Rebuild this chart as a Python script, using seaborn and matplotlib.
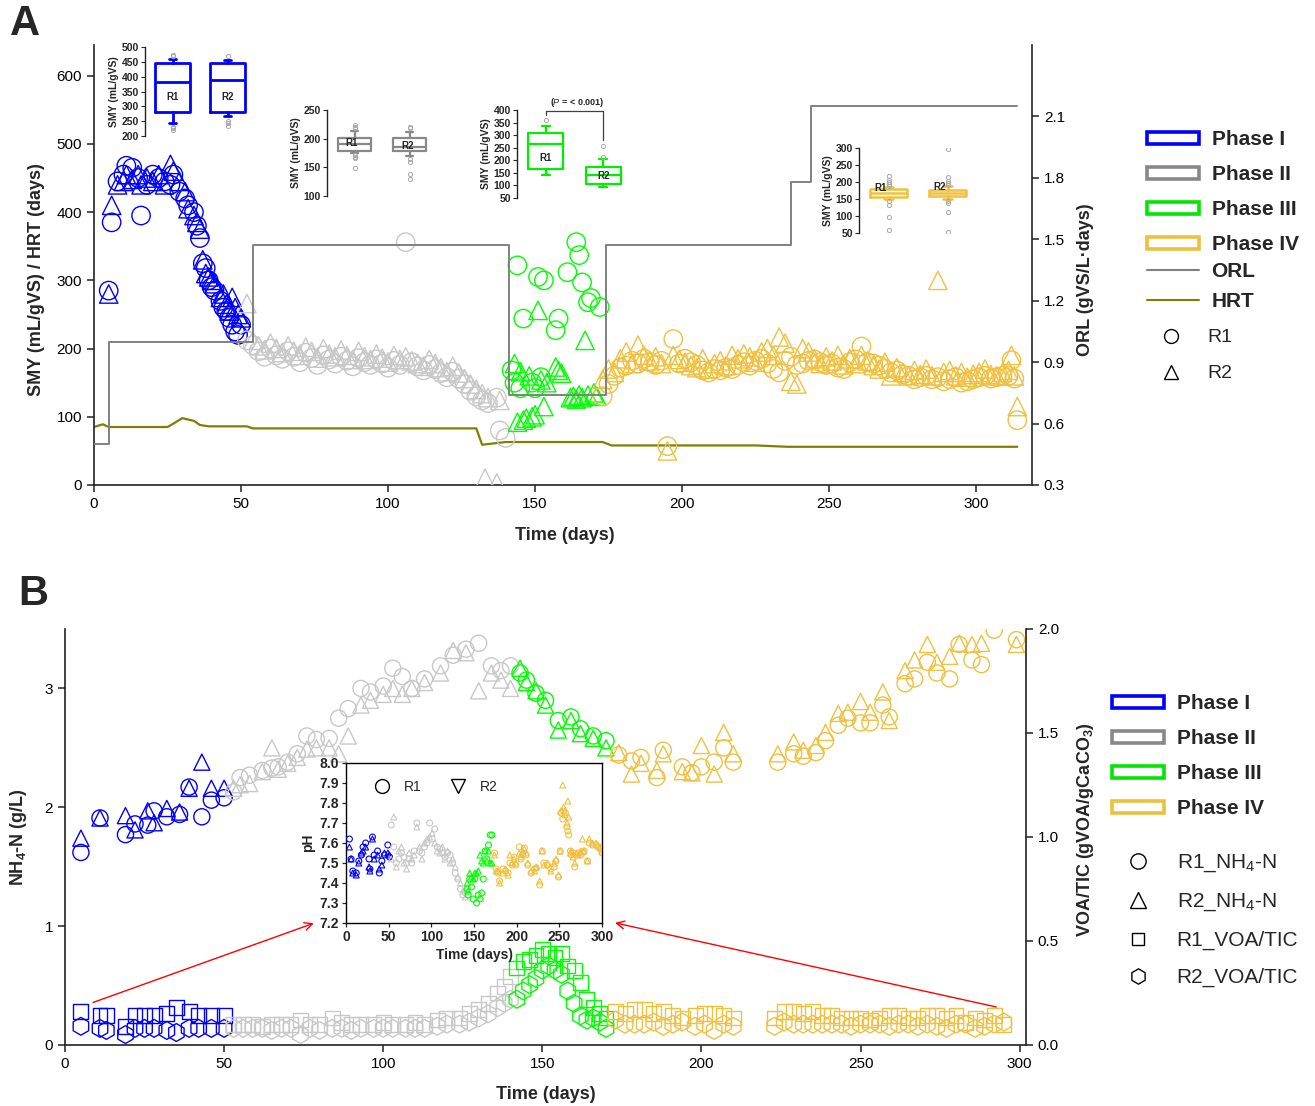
import numpy as np
import pandas as pd
import matplotlib
matplotlib.use("Agg")
import matplotlib.pyplot as plt
import seaborn as sns
from matplotlib.patches import Patch
from matplotlib.lines import Line2D
from matplotlib.ticker import FormatStrFormatter

nan = np.nan

# ---------------- Panel A : specific methane yield (mL/gVS) ----------------
days_a1 = [5, 6, 8, 10, 11, 13, 15, 16, 18, 20, 22, 24, 26, 27, 29, 31, 32, 34, 35, 36,
           37, 38, 39, 40, 41, 43, 44, 45, 46, 47, 48, 49, 50]
smy_r1_a1 = [285, 385, 445, 455, 468, 465, 450, 395, 440, 455, 450, 445, 440, 455, 430, 420, 410, 400, 380, 362,
             325, 318, 300, 290, 285, 270, 260, 255, 245, 235, 225, 220, 235]
smy_r2_a1 = [280, 410, 440, 445, 455, 448, 455, 440, 450, 445, 455, 440, 470, 460, 445, 430, 405, 395, 385, 375,
             330, 310, 305, 300, 295, 275, 280, 265, 255, 275, 260, 250, 245]

days_a2 = [52, 54, 56, 58, 60, 62, 64, 66, 68, 70, 72, 74, 76, 78, 80, 82, 84, 86, 88, 90,
           92, 94, 96, 98, 100, 102, 104, 106, 108, 110, 112, 114, 116, 118, 120, 122, 124, 126, 128, 130,
           132, 133, 134, 136, 137, 138, 140]
smy_r1_a2 = [212, 205, 196, 188, 200, 190, 185, 196, 188, 180, 194, 186, 176, 190, 184, 178, 188, 182, 174, 186,
             180, 176, 184, 178, 172, 182, 176, 356, 180, 174, 168, 176, 170, 164, 158, 166, 156, 148, 138, 130,
             124, nan, 120, nan, 128, 80, 69]
smy_r2_a2 = [266, 212, 204, 198, 208, 200, 194, 204, 196, 190, 202, 196, 186, 200, 192, 188, 198, 190, 184, 196,
             188, 184, 192, 186, 180, 190, 184, 188, 182, 178, 174, 184, 178, 172, 166, 174, 164, 156, 148, 140,
             134, 10, 128, nan, 3, 124, nan]

days_a3_r1 = [142, 143, 144, 145, 146, 149, 150, 151, 152, 153, 157, 158, 161, 164, 165, 166, 168, 169, 172]
smy_r1_a3 = [168, 150, 322, 142, 244, 150, 142, 305, 158, 300, 227, 244, 312, 356, 337, 297, 268, 274, 261]
days_a3_r2 = [143, 144, 145, 146, 147, 148, 149, 150, 151, 152, 153, 154, 157, 158, 159, 162, 163, 164, 165, 166,
              167, 168, 170, 171]
smy_r2_a3 = [178, 92, 166, 95, 98, 160, 100, 103, 256, 154, 115, 150, 173, 168, 164, 128, 130, 126, 132, 128,
             212, 132, 135, 130]

days_a4 = [173, 175, 177, 179, 181, 183, 185, 187, 189, 191, 193, 195, 197, 199, 201, 203, 205, 207, 209, 211,
           213, 215, 217, 219, 221, 223, 225, 227, 229, 231, 233, 235, 237, 239, 241, 243, 245, 247, 249, 251,
           253, 255, 257, 259, 261, 263, 265, 267, 269, 271, 273, 275, 277, 279, 281, 283, 285, 287, 289, 291,
           293, 295, 297, 299, 301, 303, 305, 307, 309, 311, 312, 313, 314]
smy_r1_a4 = [130, 148, 160, 172, 175, 182, 178, 185, 180, 176, 182, 57, 214, 178, 185, 180, 176, 168, 165, 170,
             168, 172, 170, 176, 180, 175, 182, 185, 178, 170, 165, 182, 188, 176, 178, 182, 184, 180, 176, 178,
             172, 170, 180, 184, 203, 180, 178, 175, 170, 165, 168, 162, 160, 155, 158, 160, 155, 158, 152, 155,
             158, 150, 152, 155, 158, 160, 156, 158, 160, 160, 183, 156, 95]
smy_r2_a4 = [155, 170, 165, 185, 195, 178, 205, 190, 182, 188, 178, 50, 190, 184, 180, 175, 172, 185, 170, 178,
             182, 175, 190, 185, 192, 188, 180, 195, 200, 190, 217, 208, 152, 148, 200, 195, 185, 178, 188, 182,
             190, 176, 185, 178, 190, 182, 175, 170, 180, 160, 172, 165, 160, 168, 162, 170, 160, 300, 165, 168,
             160, 165, 158, 162, 165, 170, 162, 160, 165, 168, 190, 160, 115]

# operational lines
hrt_days = [0, 3, 5, 25, 27, 30, 34, 36, 39, 52, 54, 130, 132, 140, 173, 176, 225, 236, 314]
hrt_vals = [85, 89, 85, 85, 90, 98, 94, 88, 86, 86, 83, 83, 59, 63, 63, 58, 58, 56, 56]
orl_days = [0, 5, 54, 141, 174, 237, 244, 314]
orl_vals = [0.5, 1.0, 1.47, 0.74, 1.47, 1.78, 2.15, 2.15]

# inset boxplot statistics [q1, median, q3, whisker low, whisker high] and outliers
box_a1_r1 = [280, 382, 445, 245, 459]
fl_a1_r1 = [474, 468, 232, 226, 220]
box_a1_r2 = [280, 388, 447, 268, 456]
fl_a1_r2 = [470, 251, 243, 235]
box_a2_r1 = [179, 190, 202, 175, 214]
fl_a2_r1 = [223, 220, 218, 172, 168, 166, 148]
box_a2_r2 = [179, 186, 201, 169, 211]
fl_a2_r2 = [221, 218, 165, 160, 139, 129]
box_a3_r1 = [165, 263, 309, 143, 337]
fl_a3_r1 = [360]
box_a3_r2 = [107, 140, 174, 94, 207]
fl_a3_r2 = [214, 257]
box_a4_r1 = [156, 168, 179, 150, 185]
fl_a4_r1 = [217, 207, 200, 194, 189, 143, 131, 97, 60]
box_a4_r2 = [158, 168, 177, 151, 187]
fl_a4_r2 = [297, 215, 202, 196, 192, 143, 138, 112, 52]

# ---------------- Panel B : NH4-N (g/L) and VOA/TIC ----------------
days_b1 = [5, 11, 19, 22, 26, 28, 32, 36, 39, 43, 46, 50]
nh4_r1_b1 = [1.62, 1.91, 1.77, 1.86, 1.85, 1.97, 1.92, 1.94, 2.17, 1.92, 2.06, 2.08]
nh4_r2_b1 = [1.74, 1.91, 1.93, 1.81, 1.97, 1.87, 1.99, 1.96, 2.16, 2.38, 2.16, 2.16]

days_b2 = [53, 55, 58, 62, 65, 67, 70, 73, 76, 79, 83, 86, 89, 93, 96, 100, 103, 106, 109, 113,
           118, 122, 126, 130, 134, 137, 140]
nh4_r1_b2 = [2.13, 2.25, 2.27, 2.31, 2.33, 2.34, 2.38, 2.45, 2.60, 2.57, 2.58, 2.75, 2.83, 3.00, 2.97, 3.02,
             3.17, 3.10, 3.00, 3.08, 3.19, 3.28, 3.33, 3.38, 3.19, 3.15, 3.19]
nh4_r2_b2 = [2.16, 2.19, 2.20, 2.30, 2.50, 2.32, 2.37, 2.42, 2.49, 2.50, 2.50, 2.45, 2.60, 2.86, 2.90, 2.95,
             3.00, 2.95, 3.00, 3.05, 3.13, 3.32, 3.30, 2.98, 3.13, 3.07, 3.00]

days_b3 = [143, 145, 148, 151, 155, 159, 162, 166, 170]
nh4_r1_b3 = [3.13, 3.07, 2.96, 2.90, 2.73, 2.76, 2.66, 2.60, 2.56]
nh4_r2_b3 = [3.17, 3.05, 2.98, 2.86, 2.65, 2.73, 2.62, 2.58, 2.50]

days_b4 = [174, 178, 181, 186, 188, 194, 197, 200, 204, 207, 210, 224, 229, 232, 236, 239, 243, 246, 250, 253,
           257, 259, 264, 267, 271, 274, 278, 281, 285, 288, 292, 299]
nh4_r1_b4 = [2.44, 2.39, 2.42, 2.25, 2.48, 2.34, 2.29, 2.34, 2.38, 2.50, 2.38, 2.38, 2.45, 2.43, 2.46, 2.56,
             2.69, 2.75, 2.71, 2.71, 2.86, 2.76, 3.04, 3.08, 3.22, 3.13, 3.08, 3.37, 3.24, 3.20, 3.49, 3.41]
nh4_r2_b4 = [2.46, 2.28, 2.37, 2.31, 2.45, 2.30, 2.29, 2.52, 2.28, 2.63, 2.45, 2.45, 2.55, 2.48, 2.52, 2.63,
             2.79, 2.80, 2.89, 2.80, 2.97, 2.73, 3.15, 3.24, 3.37, 3.22, 3.27, 3.38, 3.37, 3.38, nan, 3.37]

days_v1 = [5, 11, 13, 19, 22, 25, 28, 32, 35, 39, 42, 46, 50]
voa_r1_v1 = [0.16, 0.14, 0.14, 0.09, 0.14, 0.14, 0.14, 0.15, 0.18, 0.16, 0.14, 0.14, 0.14]
voa_r2_v1 = [0.09, 0.08, 0.07, 0.05, 0.08, 0.08, 0.08, 0.07, 0.06, 0.08, 0.08, 0.08, 0.08]

days_v2 = [53, 56, 59, 62, 65, 68, 71, 74, 77, 80, 84, 87, 90, 93, 97, 100, 103, 107, 110, 113,
           117, 120, 124, 127, 130, 133, 136, 138, 140]
voa_r1_v2 = [0.10, 0.10, 0.10, 0.09, 0.10, 0.10, 0.10, 0.12, 0.10, 0.10, 0.13, 0.11, 0.10, 0.10, 0.10, 0.11,
             0.10, 0.10, 0.11, 0.10, 0.12, 0.13, 0.13, 0.15, 0.17, 0.20, 0.25, 0.28, 0.33]
voa_r2_v2 = [0.08, 0.08, 0.08, 0.08, 0.07, 0.08, 0.08, 0.05, 0.08, 0.07, 0.08, 0.08, 0.07, 0.08, 0.08, 0.08,
             0.08, 0.08, 0.08, 0.08, 0.09, 0.10, 0.10, 0.11, 0.13, 0.15, 0.18, 0.20, 0.22]

days_v3 = [142, 144, 146, 148, 150, 152, 154, 156, 158, 160, 162, 164, 166, 168, 170]
voa_r1_v3 = [0.37, 0.40, 0.41, 0.43, 0.46, 0.44, 0.42, 0.44, 0.38, 0.36, 0.30, 0.22, 0.18, 0.15, 0.13]
voa_r2_v3 = [0.22, 0.26, 0.29, 0.32, 0.36, 0.38, 0.36, 0.34, 0.26, 0.20, 0.14, 0.12, 0.13, 0.11, 0.08]

days_v4 = [173, 176, 179, 182, 185, 188, 191, 194, 198, 201, 204, 207, 210, 223, 226, 229, 232, 235, 238, 241,
           244, 247, 250, 253, 256, 259, 262, 265, 268, 271, 274, 277, 280, 283, 286, 289, 292, 295]
voa_r1_v4 = [0.16, 0.15, 0.17, 0.17, 0.15, 0.16, 0.14, 0.13, 0.14, 0.15, 0.15, 0.14, 0.13, 0.13, 0.16, 0.16,
             0.15, 0.16, 0.14, 0.14, 0.13, 0.13, 0.13, 0.12, 0.13, 0.14, 0.14, 0.13, 0.13, 0.14, 0.14, 0.13,
             0.14, 0.11, 0.13, 0.12, 0.14, 0.10]
voa_r2_v4 = [0.12, 0.10, 0.10, 0.10, 0.11, 0.09, 0.10, 0.11, 0.09, 0.10, 0.07, 0.10, 0.09, 0.09, 0.11, 0.10,
             0.10, 0.10, 0.10, 0.10, 0.10, 0.09, 0.10, 0.10, 0.10, 0.09, 0.10, 0.10, 0.09, 0.10, 0.09, 0.08,
             0.10, 0.10, 0.08, 0.09, 0.10, 0.11]

# pH inset
days_ph1 = [4, 6, 8, 12, 15, 18, 20, 23, 27, 28, 31, 33, 37, 39, 42, 45, 49, 51]
ph_r1_1 = [7.62, 7.52, 7.46, 7.45, 7.51, 7.54, 7.58, 7.60, 7.52, 7.47, 7.63, 7.54, 7.56, 7.45, 7.51, 7.54, 7.59, 7.53]
ph_r2_1 = [7.58, 7.52, 7.45, 7.44, 7.50, 7.55, 7.56, 7.58, 7.48, 7.46, 7.62, 7.52, 7.54, 7.47, 7.49, 7.55, 7.55, 7.54]
days_ph2 = [53, 56, 59, 62, 65, 68, 71, 74, 77, 80, 83, 86, 89, 92, 95, 98, 101, 104, 107, 110,
            113, 116, 119, 122, 125, 128, 131, 134, 137, 140]
ph_r1_2 = [7.69, 7.58, 7.50, 7.52, 7.55, 7.53, 7.50, 7.52, 7.50, 7.56, 7.70, 7.56, 7.55, 7.58, 7.60, 7.70,
           7.62, 7.67, 7.58, 7.57, 7.55, 7.53, 7.55, 7.54, 7.50, 7.45, 7.42, 7.37, 7.34, 7.35]
ph_r2_2 = [7.52, 7.73, 7.48, 7.56, 7.58, 7.50, 7.47, 7.55, 7.52, 7.54, 7.68, 7.58, 7.52, 7.60, 7.62, 7.63,
           7.65, 7.60, 7.56, 7.55, 7.58, 7.52, 7.56, 7.50, 7.52, 7.48, 7.43, 7.40, 7.36, 7.33]
days_ph3 = [142, 143, 145, 147, 149, 151, 153, 155, 157, 159, 161, 163, 165, 167, 169, 171]
ph_r1_3 = [7.37, 7.34, 7.42, 7.38, 7.32, 7.42, 7.30, 7.34, 7.32, 7.35, 7.42, 7.56, 7.52, 7.59, 7.64, 7.64]
ph_r2_3 = [7.40, 7.36, 7.45, 7.43, 7.42, 7.45, 7.45, 7.46, 7.54, 7.51, 7.50, 7.56, 7.51, 7.56, 7.50, 7.50]
days_ph4 = [174, 176, 178, 180, 184, 187, 190, 192, 195, 197, 199, 203, 205, 207, 209, 211, 213, 217, 221, 223,
            227, 230, 232, 236, 240, 244, 246, 249, 251, 252, 254, 255, 257, 259, 260, 261, 263, 264, 266, 268,
            270, 272, 275, 277, 279, 283, 285, 289, 293, 295, 298, 300]
ph_r1_4 = [7.55, 7.47, 7.45, 7.41, 7.47, 7.46, 7.45, 7.50, 7.49, 7.53, 7.49, 7.58, 7.52, 7.54, 7.575, 7.54,
           7.49, 7.45, 7.47, 7.475, 7.39, 7.56, 7.50, 7.49, 7.47, 7.48, 7.51, 7.43, 7.56, 7.75, 7.72, 7.76,
           7.75, 7.68, 7.66, 7.64, 7.56, 7.54, 7.55, 7.48, 7.54, 7.55, 7.54, 7.55, 7.56, 7.51, 7.60, 7.59,
           7.59, 7.58, 7.57, 7.55]
ph_r2_4 = [7.54, 7.46, 7.46, 7.40, 7.45, 7.47, 7.44, 7.54, 7.50, 7.52, 7.50, 7.55, 7.53, 7.56, 7.57, 7.55,
           7.50, 7.46, 7.46, 7.48, 7.41, 7.56, 7.49, 7.50, 7.46, 7.50, 7.52, 7.44, 7.56, 7.76, 7.89, 7.78,
           7.74, 7.70, 7.81, 7.73, 7.55, 7.56, 7.53, 7.50, 7.55, 7.54, 7.56, 7.62, 7.56, 7.51, 7.62, 7.60,
           7.60, 7.59, 7.58, 7.56]

phase_labels = ['Phase I', 'Phase II', 'Phase III', 'Phase IV']

# ---------------- style ----------------
sns.set_style("ticks")
plt.rcParams['font.family'] = ['Liberation Sans', 'DejaVu Sans']
plt.rcParams['mathtext.fontset'] = 'custom'
plt.rcParams['mathtext.rm'] = 'Liberation Sans'
plt.rcParams['mathtext.it'] = 'Liberation Sans:italic'
plt.rcParams['mathtext.bf'] = 'Liberation Sans:bold'
plt.rcParams['mathtext.default'] = 'regular'
plt.rcParams['xtick.direction'] = 'out'
plt.rcParams['ytick.direction'] = 'out'

blue = '#0000FF'
grey_pt = '#C8C8C8'
grey_dk = '#888888'
green = '#00FF00'
gold = '#F0C040'
olive = '#808000'
orl_c = '#808080'
legend_cols = [blue, grey_dk, '#00E600', '#EDC03E']

W, H = 1315, 1106
fig = plt.figure(figsize=(W / 100, H / 100), dpi=100)


def px_rect(l, t, r, b):
    return [l / W, 1 - b / H, (r - l) / W, (b - t) / H]


def hollow(ax, x, y, marker, color, size, lw=1.0):
    sns.scatterplot(x=x, y=y, ax=ax, marker=marker, s=size, facecolor='none',
                    edgecolor=color, linewidth=lw, legend=False, zorder=3)


def style_main(ax, axr):
    for s in ['top', 'right']:
        ax.spines[s].set_visible(False)
    for s in ['top', 'left', 'bottom']:
        axr.spines[s].set_visible(False)
    for a in (ax, axr):
        for s in a.spines.values():
            s.set_linewidth(1.2)
            s.set_color('#222222')
        a.tick_params(labelsize=11, length=5, width=1.1, colors='#222222', labelcolor='black')


# ---------------- Panel A ----------------
axA = fig.add_axes(px_rect(94, 45, 1032, 485))
axA_r = axA.twinx()

sets_a = [(days_a1, smy_r1_a1, days_a1, smy_r2_a1, blue),
          (days_a2, smy_r1_a2, days_a2, smy_r2_a2, grey_pt),
          (days_a3_r1, smy_r1_a3, days_a3_r2, smy_r2_a3, green),
          (days_a4, smy_r1_a4, days_a4, smy_r2_a4, gold)]
for d1, y1, d2, y2, c in sets_a:
    hollow(axA, d1, y1, 'o', c, 175)
    hollow(axA, d2, y2, '^', c, 175)

sns.lineplot(x=hrt_days, y=hrt_vals, ax=axA, color=olive, lw=1.6)
sns.lineplot(x=orl_days, y=orl_vals, ax=axA_r, color=orl_c, lw=1.4, drawstyle='steps-post')

axA.set_xlim(0, 319)
axA.set_ylim(0, 645)
axA_r.set_ylim(0.3, 2.447)
axA.set_xticks(range(0, 301, 50))
axA.set_yticks(range(0, 601, 100))
axA_r.set_yticks([0.3, 0.6, 0.9, 1.2, 1.5, 1.8, 2.1])
axA_r.yaxis.set_major_formatter(FormatStrFormatter('%.1f'))
style_main(axA, axA_r)
axA.set_xlabel('Time (days)', fontsize=13, fontweight='bold')
axA.set_ylabel('SMY (mL/gVS) / HRT (days)', fontsize=13, fontweight='bold')
axA_r.set_ylabel('ORL (gVS/L·days)', fontsize=13, fontweight='bold')
axA.xaxis.set_label_coords(0.502, -0.095)
axA.yaxis.set_label_coords(-0.052, 0.466)
axA_r.yaxis.set_label_coords(1.048, 0.466)


def inset_box(rect, st1, fl1, st2, fl2, color, lw, width, ylim, yticks):
    ax = fig.add_axes(px_rect(*rect))
    ax.patch.set_alpha(0)
    stats = []
    for st, fl, lab in ((st1, fl1, 'R1'), (st2, fl2, 'R2')):
        stats.append(dict(q1=st[0], med=st[1], q3=st[2], whislo=st[3], whishi=st[4],
                          fliers=fl, label=lab))
    ax.bxp(stats, positions=[1, 2], widths=width, capwidths=0.14, manage_ticks=False,
           boxprops=dict(color=color, lw=lw), whiskerprops=dict(color=color, lw=lw),
           capprops=dict(color=color, lw=lw), medianprops=dict(color=color, lw=lw),
           flierprops=dict(marker='o', ms=3, mfc='none', mec='#A8A8A8', mew=0.7))
    ax.set_xlim(0.5, 2.5)
    ax.set_ylim(*ylim)
    ax.set_yticks(yticks)
    ax.set_xticks([])
    for s in ['top', 'right', 'bottom']:
        ax.spines[s].set_visible(False)
    ax.spines['left'].set_linewidth(1)
    ax.spines['left'].set_color('#222222')
    ax.tick_params(axis='y', labelsize=7.5, length=3, width=0.8, pad=1.5)
    for t in ax.get_yticklabels():
        t.set_fontweight('bold')
    ax.set_ylabel('SMY (mL/gVS)', fontsize=7.5, fontweight='bold', labelpad=2)
    return ax


ins1 = inset_box((145, 47, 255, 136), box_a1_r1, fl_a1_r1, box_a1_r2, fl_a1_r2, blue, 2.0, 0.62,
                 (200, 500), range(200, 501, 50))
ins1.text(1, 330, 'R1', ha='center', va='center', fontsize=7, fontweight='bold')
ins1.text(2, 330, 'R2', ha='center', va='center', fontsize=7, fontweight='bold')

ins2 = inset_box((327, 110, 437, 196), box_a2_r1, fl_a2_r1, box_a2_r2, fl_a2_r2, grey_dk, 1.6, 0.6,
                 (100, 250), range(100, 251, 50))
ins2.text(0.95, 192, 'R1', ha='center', va='center', fontsize=7, fontweight='bold')
ins2.text(1.97, 188, 'R2', ha='center', va='center', fontsize=7, fontweight='bold')

ins3 = inset_box((517, 110, 632, 198), box_a3_r1, fl_a3_r1, box_a3_r2, fl_a3_r2, '#00EE00', 1.6, 0.61,
                 (50, 400), range(50, 401, 50))
ins3.text(1, 208, 'R1', ha='center', va='center', fontsize=7, fontweight='bold')
ins3.text(2, 137, 'R2', ha='center', va='center', fontsize=7, fontweight='bold')
ins3.plot([1, 1, 2, 2], [380, 396, 396, 280], color='#404040', lw=0.9, clip_on=False)
ins3.text(1.55, 404, r'($\mathit{P}$ = < 0.001)', ha='center', va='bottom', fontsize=6.5,
          fontweight='bold', clip_on=False)

ins4 = inset_box((859, 148, 977, 233), box_a4_r1, fl_a4_r1, box_a4_r2, fl_a4_r2, gold, 1.8, 0.64,
                 (50, 300), range(50, 301, 50))
ins4.text(0.86, 183, 'R1', ha='center', va='center', fontsize=7, fontweight='bold')
ins4.text(1.87, 185, 'R2', ha='center', va='center', fontsize=7, fontweight='bold')

# ---------------- Panel B ----------------
axB = fig.add_axes(px_rect(65, 629, 1026, 1045))
axB_r = axB.twinx()

sets_b = [(days_b1, nh4_r1_b1, nh4_r2_b1, days_v1, voa_r1_v1, voa_r2_v1, blue),
          (days_b2, nh4_r1_b2, nh4_r2_b2, days_v2, voa_r1_v2, voa_r2_v2, grey_pt),
          (days_b3, nh4_r1_b3, nh4_r2_b3, days_v3, voa_r1_v3, voa_r2_v3, green),
          (days_b4, nh4_r1_b4, nh4_r2_b4, days_v4, voa_r1_v4, voa_r2_v4, gold)]
for db, n1, n2, dv, v1, v2, c in sets_b:
    hollow(axB, db, n1, 'o', c, 135)
    hollow(axB, db, n2, '^', c, 135)
    hollow(axB_r, dv, v1, 's', c, 115)
    hollow(axB_r, dv, v2, 'h', c, 165)

axB.set_xlim(0, 302)
axB.set_ylim(0, 3.5)
axB_r.set_ylim(0, 2.0)
axB.set_xticks(range(0, 301, 50))
axB.set_yticks([0, 1, 2, 3])
axB_r.set_yticks([0.0, 0.5, 1.0, 1.5, 2.0])
axB_r.yaxis.set_major_formatter(FormatStrFormatter('%.1f'))
style_main(axB, axB_r)
axB.set_xlabel('Time (days)', fontsize=13, fontweight='bold')
axB.set_ylabel(r'NH$_\mathbf{4}$-N (g/L)', fontsize=13, fontweight='bold')
axB_r.set_ylabel(r'VOA/TIC (gVOA/gCaCO$_\mathbf{3}$)', fontsize=13, fontweight='bold')
axB.xaxis.set_label_coords(0.5, -0.099)
axB.yaxis.set_label_coords(-0.037, 0.5)
axB_r.yaxis.set_label_coords(1.051, 0.517)

axB_r.annotate('', xy=(79, 0.59), xytext=(8, 0.2), annotation_clip=False,
               arrowprops=dict(arrowstyle='->', color='red', lw=1, mutation_scale=14))
axB_r.annotate('', xy=(172, 0.59), xytext=(293.5, 0.18), annotation_clip=False,
               arrowprops=dict(arrowstyle='->', color='red', lw=1, mutation_scale=14))

# pH inset
axI = fig.add_axes(px_rect(346, 763, 602, 923))
sets_ph = [(days_ph1, ph_r1_1, ph_r2_1, blue), (days_ph2, ph_r1_2, ph_r2_2, grey_pt),
           (days_ph3, ph_r1_3, ph_r2_3, green), (days_ph4, ph_r1_4, ph_r2_4, gold)]
for d, p1, p2, c in sets_ph:
    hollow(axI, d, p1, 'o', c, 18, 0.8)
    hollow(axI, d, p2, '^', c, 18, 0.8)
axI.set_xlim(0, 300)
axI.set_ylim(7.2, 8.0)
axI.set_xticks(range(0, 301, 50))
axI.set_yticks([7.2, 7.3, 7.4, 7.5, 7.6, 7.7, 7.8, 7.9, 8.0])
axI.yaxis.set_major_formatter(FormatStrFormatter('%.1f'))
for s in axI.spines.values():
    s.set_linewidth(1)
    s.set_color('black')
axI.tick_params(labelsize=10, length=3, width=0.9, pad=2)
for t in axI.get_xticklabels() + axI.get_yticklabels():
    t.set_fontweight('bold')
axI.set_xlabel('Time (days)', fontsize=10, fontweight='bold', labelpad=3)
axI.set_ylabel('pH', fontsize=10, fontweight='bold', labelpad=3)
ph_handles = [Line2D([], [], ls='none', marker='o', mfc='none', mec='black', ms=10, mew=1),
              Line2D([], [], ls='none', marker='v', mfc='none', mec='black', ms=10, mew=1)]
axI.legend(ph_handles, ['R1', 'R2'], ncol=2, loc='upper left', bbox_to_anchor=(0.065, 0.93),
           frameon=False, fontsize=10, handletextpad=0.6, columnspacing=1.6, borderaxespad=0)

# ---------------- legends ----------------
phase_handles = [Patch(facecolor='white', edgecolor=c, lw=2.6) for c in legend_cols]
common = dict(loc='upper left', frameon=False, borderpad=0, borderaxespad=0,
              handlelength=2.5, handleheight=0.5, handletextpad=0.6)

fig.legend(phase_handles, phase_labels, bbox_to_anchor=(1147 / W, 1 - 130 / H),
           prop={'size': 15, 'weight': 'bold'}, labelspacing=0.77, **common)
fig.legend([Line2D([], [], color=orl_c, lw=1.5), Line2D([], [], color=olive, lw=1.5)], ['ORL', 'HRT'],
           bbox_to_anchor=(1147 / W, 1 - 262 / H), prop={'size': 15, 'weight': 'bold'},
           labelspacing=0.53, **common)
fig.legend([Line2D([], [], ls='none', marker='o', mfc='none', mec='black', ms=10, mew=1),
            Line2D([], [], ls='none', marker='^', mfc='none', mec='black', ms=10, mew=1)], ['R1', 'R2'],
           bbox_to_anchor=(1147 / W, 1 - 329 / H), prop={'size': 14}, labelspacing=1.0, **common)

fig.legend(phase_handles, phase_labels, bbox_to_anchor=(1112 / W, 1 - 694 / H),
           prop={'size': 15, 'weight': 'bold'}, labelspacing=0.77, **common)
mk = dict(ls='none', mfc='none', mec='black', mew=1)
fig.legend([Line2D([], [], marker='o', ms=11, **mk), Line2D([], [], marker='^', ms=11, **mk),
            Line2D([], [], marker='s', ms=9, **mk), Line2D([], [], marker='h', ms=11, **mk)],
           [r'R1_NH$_4$-N', r'R2_NH$_4$-N', 'R1_VOA/TIC', 'R2_VOA/TIC'],
           bbox_to_anchor=(1112 / W, 1 - 852 / H), prop={'size': 15}, labelspacing=0.85, **common)

fig.text(10 / W, 1 - 4 / H, 'A', fontsize=30, fontweight='bold', va='top', ha='left')
fig.text(18 / W, 1 - 574 / H, 'B', fontsize=30, fontweight='bold', va='top', ha='left')

fig.savefig('out.png', dpi=100)
